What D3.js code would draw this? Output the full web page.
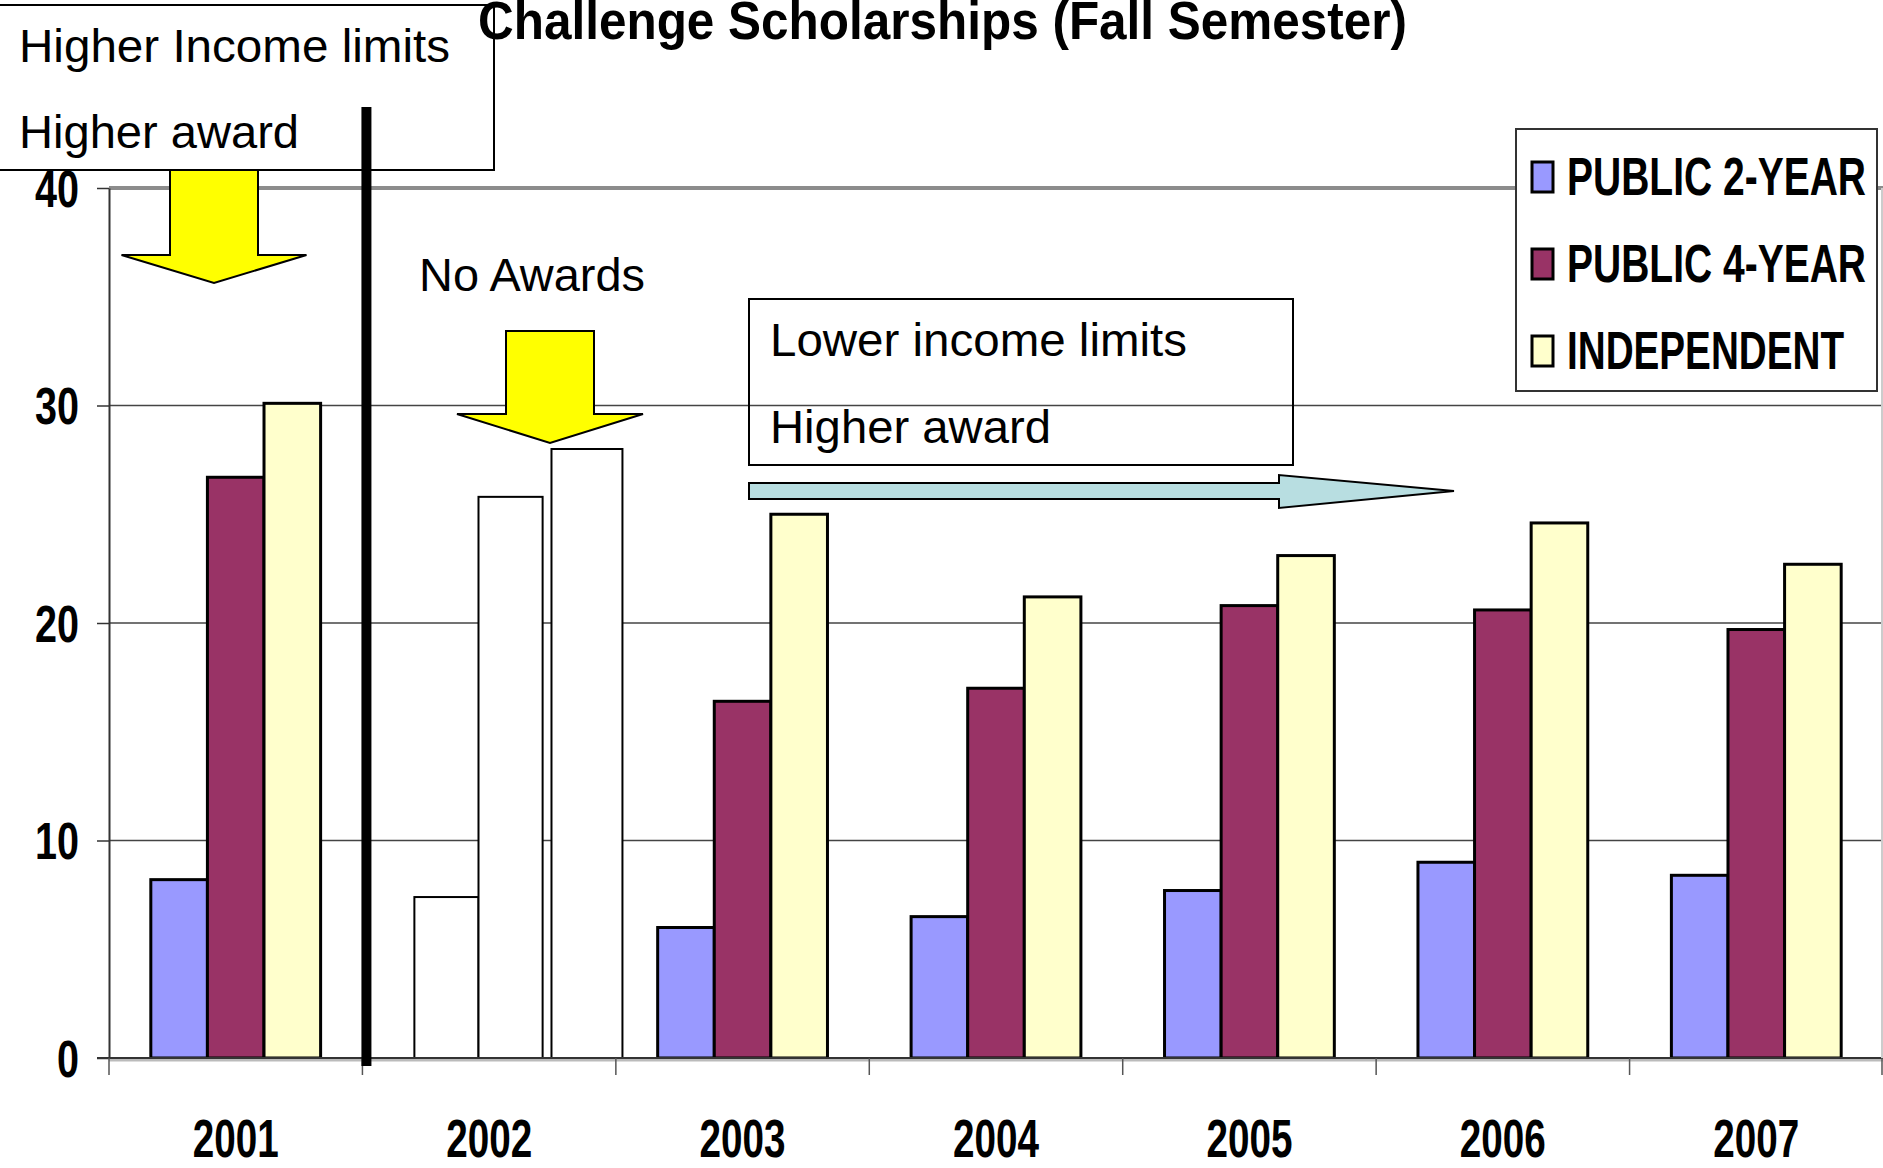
<!DOCTYPE html>
<html>
<head>
<meta charset="utf-8">
<script src="https://d3js.org/d3.v7.min.js"></script>
<style>
  body { margin: 0; background: #fff; }
  svg { display: block; }
  .narrow { font-family: "Liberation Sans Narrow", "Arial Narrow", "Liberation Sans", Arial, sans-serif; font-weight: bold; fill: #000; }
  .note { font-family: "Liberation Sans", Arial, sans-serif; fill: #000; }
</style>
</head>
<body>
<svg width="1883" height="1168"></svg>
<script>
// chart values
var years = ["2001", "2002", "2003", "2004", "2005", "2006", "2007"];
var series = ["PUBLIC 2-YEAR", "PUBLIC 4-YEAR", "INDEPENDENT"];
var public2 = [8.2, null, 6.0, 6.5, 7.7, 9.0, 8.4];
var public4 = [26.7, null, 16.4, 17.0, 20.8, 20.6, 19.7];
var independent = [30.1, null, 25.0, 21.2, 23.1, 24.6, 22.7];
// the blanked-out 2002 bars ("No Awards")
var blank2002 = [7.4, 25.8, 28.0];
var yTicks = [0, 10, 20, 30, 40];
var colors = ["#9999FF", "#993366", "#FFFFCC"];

var svg = d3.select("svg");

var x0 = d3.scaleBand().domain(years).range([109, 1883]);
var bw = x0.bandwidth();
var x1 = d3.scaleBand().domain(series).range([bw * 0.165, bw * 0.835]);
var y = d3.scaleLinear().domain([0, 40]).range([1058, 188]);

// gridlines
svg.append("g").selectAll("line")
    .data(yTicks.filter(function(d) { return d > 0 && d < 40; }))
    .enter().append("line")
    .attr("x1", 109).attr("x2", 1883)
    .attr("y1", function(d) { return y(d); })
    .attr("y2", function(d) { return y(d); })
    .attr("stroke", "#444").attr("stroke-width", 1.3);

// top border of plot (the 40 line)
svg.append("line")
    .attr("x1", 109).attr("x2", 1883)
    .attr("y1", y(40)).attr("y2", y(40))
    .attr("stroke", "#8c8c8c").attr("stroke-width", 4);

// y axis
var yAxis = svg.append("g")
    .attr("transform", "translate(109,0)")
    .call(d3.axisLeft(y).tickValues(yTicks).tickSize(12).tickPadding(18).tickSizeOuter(0));
yAxis.select(".domain").attr("stroke", "#333").attr("stroke-width", 2);
yAxis.selectAll(".tick line").attr("stroke", "#333").attr("stroke-width", 1.5);
yAxis.selectAll(".tick text")
    .attr("class", "narrow")
    .style("font-size", "51px")
    .attr("dy", "0.36em")
    .attr("textLength", function(d) { return String(d).length * 22; })
    .attr("lengthAdjust", "spacingAndGlyphs");

// bars
var rows = years.map(function(yr, i) {
  return { year: yr, vals: [public2[i], public4[i], independent[i]] };
});
var groups = svg.append("g").selectAll("g")
    .data(rows)
    .enter().append("g")
    .attr("transform", function(d) { return "translate(" + x0(d.year) + ",0)"; });
groups.selectAll("rect")
    .data(function(d) {
      return d.vals.map(function(v, j) { return { key: series[j], value: v, j: j }; })
                   .filter(function(e) { return e.value != null; });
    })
    .enter().append("rect")
    .attr("x", function(d) { return x1(d.key); })
    .attr("width", x1.bandwidth())
    .attr("y", function(d) { return y(d.value); })
    .attr("height", function(d) { return y(0) - y(d.value); })
    .attr("fill", function(d) { return colors[d.j]; })
    .attr("stroke", "#000").attr("stroke-width", 3);

// white boxes covering 2002
var blankPos = [[0.205, 0.253], [0.458, 0.253], [0.746, 0.28]];
svg.append("g").selectAll("rect")
    .data(blank2002)
    .enter().append("rect")
    .attr("x", function(d, i) { return x0("2002") + bw * blankPos[i][0]; })
    .attr("width", function(d, i) { return bw * blankPos[i][1]; })
    .attr("y", function(d) { return y(d); })
    .attr("height", function(d) { return y(0) - y(d); })
    .attr("fill", "#fff").attr("stroke", "#000").attr("stroke-width", 2);

// x axis line + boundary ticks
svg.append("line")
    .attr("x1", 109).attr("x2", 1883)
    .attr("y1", y(0) + 2).attr("y2", y(0) + 2)
    .attr("stroke", "#bbb").attr("stroke-width", 3);
svg.append("line")
    .attr("x1", 97).attr("x2", 1883)
    .attr("y1", y(0)).attr("y2", y(0))
    .attr("stroke", "#333").attr("stroke-width", 2);
svg.append("g").selectAll("line")
    .data(years.concat(["end"]))
    .enter().append("line")
    .attr("x1", function(d) { return d === "end" ? x0.range()[1] - 1 : x0(d); })
    .attr("x2", function(d) { return d === "end" ? x0.range()[1] - 1 : x0(d); })
    .attr("y1", y(0)).attr("y2", y(0) + 17)
    .attr("stroke", "#555").attr("stroke-width", 1.5);
svg.append("g").selectAll("text")
    .data(years)
    .enter().append("text")
    .attr("class", "narrow")
    .style("font-size", "53px")
    .attr("text-anchor", "middle")
    .attr("x", function(d) { return x0(d) + bw / 2; })
    .attr("y", 1157)
    .attr("textLength", function(d) { return d.length * 21.5; })
    .attr("lengthAdjust", "spacingAndGlyphs")
    .text(function(d) { return d; });

// right border
svg.append("line")
    .attr("x1", 1882).attr("x2", 1882)
    .attr("y1", y(40)).attr("y2", y(0))
    .attr("stroke", "#ccc").attr("stroke-width", 2);

// annotation box 1
svg.append("rect")
    .attr("x", -3).attr("y", 5).attr("width", 497).attr("height", 165)
    .attr("fill", "#fff").attr("stroke", "#000").attr("stroke-width", 2);
svg.append("text").attr("class", "note").style("font-size", "47px")
    .attr("x", 19).attr("y", 62)
    .attr("textLength", 431).attr("lengthAdjust", "spacingAndGlyphs")
    .text("Higher Income limits");
svg.append("text").attr("class", "note").style("font-size", "47px")
    .attr("x", 19).attr("y", 148)
    .attr("textLength", 280).attr("lengthAdjust", "spacingAndGlyphs")
    .text("Higher award");

// title (partly clipped at the top, as in the source)
svg.append("text")
    .attr("class", "narrow")
    .style("font-size", "54px")
    .attr("x", 478).attr("y", 39)
    .attr("textLength", 929).attr("lengthAdjust", "spacingAndGlyphs")
    .text("Challenge Scholarships (Fall Semester)");

// yellow arrows
function downArrow(cx, top, shaftW, headY, headW, tipY) {
  return [[cx - shaftW / 2, top], [cx + shaftW / 2, top], [cx + shaftW / 2, headY],
          [cx + headW / 2, headY], [cx, tipY], [cx - headW / 2, headY],
          [cx - shaftW / 2, headY]];
}
svg.append("polygon")
    .attr("points", downArrow(214, 170, 88, 255, 185, 283).join(" "))
    .attr("fill", "#FFFF00").attr("stroke", "#000").attr("stroke-width", 2);
svg.append("polygon")
    .attr("points", downArrow(550, 331, 88, 414, 186, 443).join(" "))
    .attr("fill", "#FFFF00").attr("stroke", "#000").attr("stroke-width", 2);

// No Awards
svg.append("text").attr("class", "note").style("font-size", "47px")
    .attr("x", 419).attr("y", 291)
    .attr("textLength", 226).attr("lengthAdjust", "spacingAndGlyphs")
    .text("No Awards");

// annotation box 2
svg.append("rect")
    .attr("x", 749).attr("y", 299).attr("width", 544).attr("height", 166)
    .attr("fill", "none").attr("stroke", "#000").attr("stroke-width", 2);
svg.append("text").attr("class", "note").style("font-size", "47px")
    .attr("x", 770).attr("y", 356)
    .attr("textLength", 417).attr("lengthAdjust", "spacingAndGlyphs")
    .text("Lower income limits");
svg.append("text").attr("class", "note").style("font-size", "47px")
    .attr("x", 770).attr("y", 443)
    .attr("textLength", 281).attr("lengthAdjust", "spacingAndGlyphs")
    .text("Higher award");

// cyan arrow
svg.append("polygon")
    .attr("points", [[749, 483], [1279, 483], [1279, 475], [1454, 491], [1279, 508], [1279, 499], [749, 499]].join(" "))
    .attr("fill", "#B8DEE1").attr("stroke", "#000").attr("stroke-width", 2);

// thick divider between 2001 and 2002
svg.append("line")
    .attr("x1", x0("2002") + 4).attr("x2", x0("2002") + 4)
    .attr("y1", 107).attr("y2", y(0) + 8)
    .attr("stroke", "#000").attr("stroke-width", 10);

// legend
var legend = svg.append("g");
legend.append("rect")
    .attr("x", 1516).attr("y", 129).attr("width", 361).attr("height", 262)
    .attr("fill", "#fff").attr("stroke", "#333").attr("stroke-width", 2);
var legendW = [299, 299, 277];
var items = legend.selectAll("g.item")
    .data(series)
    .enter().append("g")
    .attr("class", "item")
    .attr("transform", function(d, i) { return "translate(0," + (i * 87) + ")"; });
items.append("rect")
    .attr("x", 1532).attr("y", 162).attr("width", 21).attr("height", 30)
    .attr("fill", function(d, i) { return colors[i]; })
    .attr("stroke", "#000").attr("stroke-width", 3);
items.append("text")
    .attr("class", "narrow")
    .style("font-size", "53px")
    .attr("x", 1567).attr("y", 195)
    .attr("textLength", function(d, i) { return legendW[i]; })
    .attr("lengthAdjust", "spacingAndGlyphs")
    .text(function(d) { return d; });
</script>
</body>
</html>
